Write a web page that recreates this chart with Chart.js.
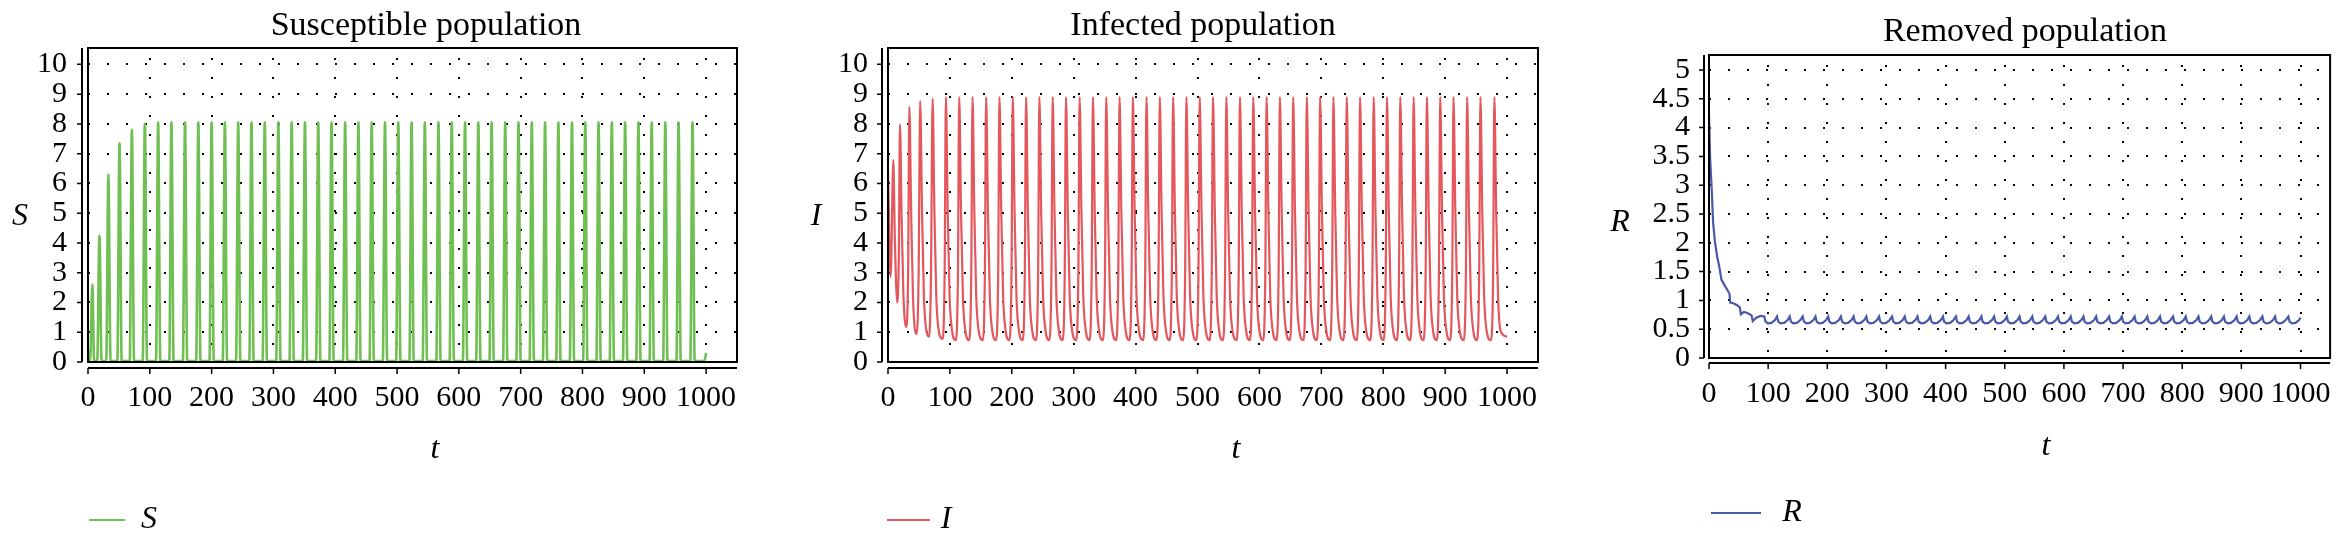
<!DOCTYPE html>
<html>
<head>
<meta charset="utf-8">
<title>SIR populations</title>
<script src="https://cdn.jsdelivr.net/npm/chart.js@4.4.0/dist/chart.umd.min.js"></script>
<style>
  body { margin: 0; background: #fff; width: 2349px; height: 540px; overflow: hidden; position: relative; }
  .panel { position: absolute; top: 0; height: 540px; }
</style>
</head>
<body>
<div class="panel" style="left:0;width:780px"><canvas id="chartS"></canvas></div>
<div class="panel" style="left:780px;width:780px"><canvas id="chartI"></canvas></div>
<div class="panel" style="left:1560px;width:789px"><canvas id="chartR"></canvas></div>
<script>
// tick values
const xTicks = [0, 100, 200, 300, 400, 500, 600, 700, 800, 900, 1000];
const popTicks = [0, 1, 2, 3, 4, 5, 6, 7, 8, 9, 10];
const removedTicks = [0, 0.5, 1, 1.5, 2, 2.5, 3, 3.5, 4, 4.5, 5];

// Susceptible S(t): narrow spikes
const sTime = [
  0, 3.5, 7, 10, 15, 18.5, 22, 29.5, 33, 36.5, 47.5, 51, 54.5, 67.5, 71, 74.5, 88.5, 92, 95.5,
  110, 113.5, 117, 131.5, 135, 138.5, 153.5, 157, 160.5, 175, 178.5, 182,
  196.5, 200, 203.5, 218, 221.5, 225, 239.5, 243, 246.5, 261, 264.5, 268,
  282.5, 286, 289.5, 304.5, 308, 311.5, 326, 329.5, 333, 347.5, 351, 354.5,
  369, 372.5, 376, 390.5, 394, 397.5, 412.5, 416, 419.5, 434, 437.5, 441,
  455.5, 459, 462.5, 477, 480.5, 484, 498.5, 502, 505.5, 520, 523.5, 527,
  541.5, 545, 548.5, 563.5, 567, 570.5, 585, 588.5, 592, 606.5, 610, 613.5,
  628, 631.5, 635, 649.5, 653, 656.5, 671.5, 675, 678.5, 693, 696.5, 700,
  714.5, 718, 721.5, 736, 739.5, 743, 757.5, 761, 764.5, 779.5, 783, 786.5,
  801, 804.5, 808, 822.5, 826, 829.5, 844, 847.5, 851, 865.5, 869, 872.5,
  887, 890.5, 894, 908.5, 912, 915.5, 930.5, 934, 937.5, 952, 955.5, 959,
  974.5, 978, 981.5, 997, 1000
];
const sValue = [
  0.4, 0.03, 2.6, 0.03, 0.03, 4.25, 0.03, 0.03, 6.3, 0.03, 0.03, 7.35, 0.03, 0.03, 7.8, 0.03, 0.03, 8.0, 0.03,
  0.03, 8.05, 0.03, 0.03, 8.05, 0.03, 0.03, 8.05, 0.03, 0.03, 8.05, 0.03,
  0.03, 8.05, 0.03, 0.03, 8.05, 0.03, 0.03, 8.05, 0.03, 0.03, 8.05, 0.03,
  0.03, 8.05, 0.03, 0.03, 8.05, 0.03, 0.03, 8.05, 0.03, 0.03, 8.05, 0.03,
  0.03, 8.05, 0.03, 0.03, 8.05, 0.03, 0.03, 8.05, 0.03, 0.03, 8.05, 0.03,
  0.03, 8.05, 0.03, 0.03, 8.05, 0.03, 0.03, 8.05, 0.03, 0.03, 8.05, 0.03,
  0.03, 8.05, 0.03, 0.03, 8.05, 0.03, 0.03, 8.05, 0.03, 0.03, 8.05, 0.03,
  0.03, 8.05, 0.03, 0.03, 8.05, 0.03, 0.03, 8.05, 0.03, 0.03, 8.05, 0.03,
  0.03, 8.05, 0.03, 0.03, 8.05, 0.03, 0.03, 8.05, 0.03, 0.03, 8.05, 0.03,
  0.03, 8.05, 0.03, 0.03, 8.05, 0.03, 0.03, 8.05, 0.03, 0.03, 8.05, 0.03,
  0.03, 8.05, 0.03, 0.03, 8.05, 0.03, 0.03, 8.05, 0.03, 0.03, 8.05, 0.03,
  0.03, 8.05, 0.03, 0.03, 0.3
];

// Infected I(t): one line per outbreak (comment = time of the peak)
const iTime = [
  0, 4.3, 8.6, 11, 15, 17.5, 19.4, 22, 25, 29.5, 32.5, 34.5, 37.5, 40.5,
  46.5, 49.5, 52, 55, 58, 62, 66.5, 69.5, 72, 75, 78, 82, 88, 91.5, 93.5, 96.5, 99.5, 103.5,
  109.5, 113, 115, 118, 121, 125,           // 115
  131, 134.5, 136.5, 139.5, 142.5, 146.5,   // 136.5
  153, 156.5, 158.5, 161.5, 164.5, 168.5,   // 158.5
  174.5, 178, 180, 183, 186, 190,           // 180
  196, 199.5, 201.5, 204.5, 207.5, 211.5,   // 201.5
  217.5, 221, 223, 226, 229, 233,           // 223
  239, 242.5, 244.5, 247.5, 250.5, 254.5,   // 244.5
  260.5, 264, 266, 269, 272, 276,           // 266
  282, 285.5, 287.5, 290.5, 293.5, 297.5,   // 287.5
  304, 307.5, 309.5, 312.5, 315.5, 319.5,   // 309.5
  325.5, 329, 331, 334, 337, 341,           // 331
  347, 350.5, 352.5, 355.5, 358.5, 362.5,   // 352.5
  368.5, 372, 374, 377, 380, 384,           // 374
  390, 393.5, 395.5, 398.5, 401.5, 405.5,   // 395.5
  412, 415.5, 417.5, 420.5, 423.5, 427.5,   // 417.5
  433.5, 437, 439, 442, 445, 449,           // 439
  455, 458.5, 460.5, 463.5, 466.5, 470.5,   // 460.5
  476.5, 480, 482, 485, 488, 492,           // 482
  498, 501.5, 503.5, 506.5, 509.5, 513.5,   // 503.5
  519.5, 523, 525, 528, 531, 535,           // 525
  541, 544.5, 546.5, 549.5, 552.5, 556.5,   // 546.5
  563, 566.5, 568.5, 571.5, 574.5, 578.5,   // 568.5
  584.5, 588, 590, 593, 596, 600,           // 590
  606, 609.5, 611.5, 614.5, 617.5, 621.5,   // 611.5
  627.5, 631, 633, 636, 639, 643,           // 633
  649, 652.5, 654.5, 657.5, 660.5, 664.5,   // 654.5
  671, 674.5, 676.5, 679.5, 682.5, 686.5,   // 676.5
  692.5, 696, 698, 701, 704, 708,           // 698
  714, 717.5, 719.5, 722.5, 725.5, 729.5,   // 719.5
  735.5, 739, 741, 744, 747, 751,           // 741
  757, 760.5, 762.5, 765.5, 768.5, 772.5,   // 762.5
  779, 782.5, 784.5, 787.5, 790.5, 794.5,   // 784.5
  800.5, 804, 806, 809, 812, 816,           // 806
  822, 825.5, 827.5, 830.5, 833.5, 837.5,   // 827.5
  843.5, 847, 849, 852, 855, 859,           // 849
  865, 868.5, 870.5, 873.5, 876.5, 880.5,   // 870.5
  886.5, 890, 892, 895, 898, 902,           // 892
  908, 911.5, 913.5, 916.5, 919.5, 923.5,   // 913.5
  930, 933.5, 935.5, 938.5, 941.5, 945.5,   // 935.5
  951.5, 955, 957, 960, 963, 967,           // 957
  974, 977.5, 979.5, 982.5, 985.5, 989.5,   // 979.5
  1000
];
const iValue = [
  6.4, 2.87, 6.78, 4.2, 2.0, 3.6, 7.98, 4.8, 2.2, 1.18, 3.0, 8.57, 4.9, 2.1,
  0.94, 3.0, 8.77, 5.0, 2.2, 1.05, 0.85, 3.0, 8.85, 5.0, 2.2, 1.05, 0.78, 3.0, 8.9, 5.0, 2.2, 1.05,
  0.73, 3.0, 8.9, 5.0, 2.2, 1.05,   // 115
  0.73, 3.0, 8.9, 5.0, 2.2, 1.05,   // 136.5
  0.73, 3.0, 8.9, 5.0, 2.2, 1.05,   // 158.5
  0.73, 3.0, 8.9, 5.0, 2.2, 1.05,   // 180
  0.73, 3.0, 8.9, 5.0, 2.2, 1.05,   // 201.5
  0.73, 3.0, 8.9, 5.0, 2.2, 1.05,   // 223
  0.73, 3.0, 8.9, 5.0, 2.2, 1.05,   // 244.5
  0.73, 3.0, 8.9, 5.0, 2.2, 1.05,   // 266
  0.73, 3.0, 8.9, 5.0, 2.2, 1.05,   // 287.5
  0.73, 3.0, 8.9, 5.0, 2.2, 1.05,   // 309.5
  0.73, 3.0, 8.9, 5.0, 2.2, 1.05,   // 331
  0.73, 3.0, 8.9, 5.0, 2.2, 1.05,   // 352.5
  0.73, 3.0, 8.9, 5.0, 2.2, 1.05,   // 374
  0.73, 3.0, 8.9, 5.0, 2.2, 1.05,   // 395.5
  0.73, 3.0, 8.9, 5.0, 2.2, 1.05,   // 417.5
  0.73, 3.0, 8.9, 5.0, 2.2, 1.05,   // 439
  0.73, 3.0, 8.9, 5.0, 2.2, 1.05,   // 460.5
  0.73, 3.0, 8.9, 5.0, 2.2, 1.05,   // 482
  0.73, 3.0, 8.9, 5.0, 2.2, 1.05,   // 503.5
  0.73, 3.0, 8.9, 5.0, 2.2, 1.05,   // 525
  0.73, 3.0, 8.9, 5.0, 2.2, 1.05,   // 546.5
  0.73, 3.0, 8.9, 5.0, 2.2, 1.05,   // 568.5
  0.73, 3.0, 8.9, 5.0, 2.2, 1.05,   // 590
  0.73, 3.0, 8.9, 5.0, 2.2, 1.05,   // 611.5
  0.73, 3.0, 8.9, 5.0, 2.2, 1.05,   // 633
  0.73, 3.0, 8.9, 5.0, 2.2, 1.05,   // 654.5
  0.73, 3.0, 8.9, 5.0, 2.2, 1.05,   // 676.5
  0.73, 3.0, 8.9, 5.0, 2.2, 1.05,   // 698
  0.73, 3.0, 8.9, 5.0, 2.2, 1.05,   // 719.5
  0.73, 3.0, 8.9, 5.0, 2.2, 1.05,   // 741
  0.73, 3.0, 8.9, 5.0, 2.2, 1.05,   // 762.5
  0.73, 3.0, 8.9, 5.0, 2.2, 1.05,   // 784.5
  0.73, 3.0, 8.9, 5.0, 2.2, 1.05,   // 806
  0.73, 3.0, 8.9, 5.0, 2.2, 1.05,   // 827.5
  0.73, 3.0, 8.9, 5.0, 2.2, 1.05,   // 849
  0.73, 3.0, 8.9, 5.0, 2.2, 1.05,   // 870.5
  0.73, 3.0, 8.9, 5.0, 2.2, 1.05,   // 892
  0.73, 3.0, 8.9, 5.0, 2.2, 1.05,   // 913.5
  0.73, 3.0, 8.9, 5.0, 2.2, 1.05,   // 935.5
  0.73, 3.0, 8.9, 5.0, 2.2, 1.05,   // 957
  0.73, 3.0, 8.9, 5.0, 2.2, 1.05,   // 979.5
  0.85
];

// Removed R(t): fast decay, then one scallop per outbreak
const rTime = [
  0, 2, 4.5, 7, 10, 14, 17.5, 21, 26, 31, 34.5, 36, 41, 47, 52, 54, 59, 65, 72, 74, 80, 87,
  93.5, 95.5, 99.5, 105.5, 111.5,   // 93.5
  115, 117, 121, 127, 133,          // 115
  136.5, 138.5, 142.5, 148.5, 154.5, // 136.5
  158.5, 160.5, 164.5, 170.5, 176.5, // 158.5
  180, 182, 186, 192, 198,          // 180
  201.5, 203.5, 207.5, 213.5, 219.5, // 201.5
  223, 225, 229, 235, 241,          // 223
  244.5, 246.5, 250.5, 256.5, 262.5, // 244.5
  266, 268, 272, 278, 284,          // 266
  287.5, 289.5, 293.5, 299.5, 305.5, // 287.5
  309.5, 311.5, 315.5, 321.5, 327.5, // 309.5
  331, 333, 337, 343, 349,          // 331
  352.5, 354.5, 358.5, 364.5, 370.5, // 352.5
  374, 376, 380, 386, 392,          // 374
  395.5, 397.5, 401.5, 407.5, 413.5, // 395.5
  417.5, 419.5, 423.5, 429.5, 435.5, // 417.5
  439, 441, 445, 451, 457,          // 439
  460.5, 462.5, 466.5, 472.5, 478.5, // 460.5
  482, 484, 488, 494, 500,          // 482
  503.5, 505.5, 509.5, 515.5, 521.5, // 503.5
  525, 527, 531, 537, 543,          // 525
  546.5, 548.5, 552.5, 558.5, 564.5, // 546.5
  568.5, 570.5, 574.5, 580.5, 586.5, // 568.5
  590, 592, 596, 602, 608,          // 590
  611.5, 613.5, 617.5, 623.5, 629.5, // 611.5
  633, 635, 639, 645, 651,          // 633
  654.5, 656.5, 660.5, 666.5, 672.5, // 654.5
  676.5, 678.5, 682.5, 688.5, 694.5, // 676.5
  698, 700, 704, 710, 716,          // 698
  719.5, 721.5, 725.5, 731.5, 737.5, // 719.5
  741, 743, 747, 753, 759,          // 741
  762.5, 764.5, 768.5, 774.5, 780.5, // 762.5
  784.5, 786.5, 790.5, 796.5, 802.5, // 784.5
  806, 808, 812, 818, 824,          // 806
  827.5, 829.5, 833.5, 839.5, 845.5, // 827.5
  849, 851, 855, 861, 867,          // 849
  870.5, 872.5, 876.5, 882.5, 888.5, // 870.5
  892, 894, 898, 904, 910,          // 892
  913.5, 915.5, 919.5, 925.5, 931.5, // 913.5
  935.5, 937.5, 941.5, 947.5, 953.5, // 935.5
  957, 959, 963, 969, 975,          // 957
  979.5, 981.5, 985.5, 991.5, 997.5, // 979.5
  1000
];
const rValue = [
  4.2, 3.45, 2.95, 2.35, 2.02, 1.75, 1.58, 1.36, 1.27, 1.18, 1.12, 0.96, 0.95, 0.92, 0.88, 0.76, 0.8, 0.78, 0.74, 0.64, 0.7, 0.73,
  0.72, 0.63, 0.6, 0.61, 0.66,   // 93.5
  0.72, 0.63, 0.6, 0.61, 0.66,   // 115
  0.72, 0.63, 0.6, 0.61, 0.66,   // 136.5
  0.72, 0.63, 0.6, 0.61, 0.66,   // 158.5
  0.72, 0.63, 0.6, 0.61, 0.66,   // 180
  0.72, 0.63, 0.6, 0.61, 0.66,   // 201.5
  0.72, 0.63, 0.6, 0.61, 0.66,   // 223
  0.72, 0.63, 0.6, 0.61, 0.66,   // 244.5
  0.72, 0.63, 0.6, 0.61, 0.66,   // 266
  0.72, 0.63, 0.6, 0.61, 0.66,   // 287.5
  0.72, 0.63, 0.6, 0.61, 0.66,   // 309.5
  0.72, 0.63, 0.6, 0.61, 0.66,   // 331
  0.72, 0.63, 0.6, 0.61, 0.66,   // 352.5
  0.72, 0.63, 0.6, 0.61, 0.66,   // 374
  0.72, 0.63, 0.6, 0.61, 0.66,   // 395.5
  0.72, 0.63, 0.6, 0.61, 0.66,   // 417.5
  0.72, 0.63, 0.6, 0.61, 0.66,   // 439
  0.72, 0.63, 0.6, 0.61, 0.66,   // 460.5
  0.72, 0.63, 0.6, 0.61, 0.66,   // 482
  0.72, 0.63, 0.6, 0.61, 0.66,   // 503.5
  0.72, 0.63, 0.6, 0.61, 0.66,   // 525
  0.72, 0.63, 0.6, 0.61, 0.66,   // 546.5
  0.72, 0.63, 0.6, 0.61, 0.66,   // 568.5
  0.72, 0.63, 0.6, 0.61, 0.66,   // 590
  0.72, 0.63, 0.6, 0.61, 0.66,   // 611.5
  0.72, 0.63, 0.6, 0.61, 0.66,   // 633
  0.72, 0.63, 0.6, 0.61, 0.66,   // 654.5
  0.72, 0.63, 0.6, 0.61, 0.66,   // 676.5
  0.72, 0.63, 0.6, 0.61, 0.66,   // 698
  0.72, 0.63, 0.6, 0.61, 0.66,   // 719.5
  0.72, 0.63, 0.6, 0.61, 0.66,   // 741
  0.72, 0.63, 0.6, 0.61, 0.66,   // 762.5
  0.72, 0.63, 0.6, 0.61, 0.66,   // 784.5
  0.72, 0.63, 0.6, 0.61, 0.66,   // 806
  0.72, 0.63, 0.6, 0.61, 0.66,   // 827.5
  0.72, 0.63, 0.6, 0.61, 0.66,   // 849
  0.72, 0.63, 0.6, 0.61, 0.66,   // 870.5
  0.72, 0.63, 0.6, 0.61, 0.66,   // 892
  0.72, 0.63, 0.6, 0.61, 0.66,   // 913.5
  0.72, 0.63, 0.6, 0.61, 0.66,   // 935.5
  0.72, 0.63, 0.6, 0.61, 0.66,   // 957
  0.72, 0.63, 0.6, 0.61, 0.66,   // 979.5
  0.70
];

const SERIF = "'Liberation Serif', 'Times New Roman', serif";

// frame, double axis lines, tick marks, title, axis letters and legend
function decorPlugin(cfg) {
  return {
    id: 'decor',
    afterDraw(chart) {
      const ctx = chart.ctx;
      const a = chart.chartArea;
      const g = cfg.gap;
      ctx.save();
      ctx.strokeStyle = '#000';
      ctx.lineWidth = 2;
      ctx.strokeRect(a.left, a.top, a.right - a.left, a.bottom - a.top);
      ctx.beginPath();
      ctx.moveTo(a.left - g, a.top);
      ctx.lineTo(a.left - g, a.bottom);
      ctx.moveTo(a.left, a.bottom + g);
      ctx.lineTo(a.right, a.bottom + g);
      ctx.stroke();

      ctx.lineWidth = 1.5;
      ctx.beginPath();
      chart.scales.x.ticks.forEach(t => {
        const px = chart.scales.x.getPixelForValue(t.value);
        ctx.moveTo(px, a.bottom + g);
        ctx.lineTo(px, a.bottom + g + 6);
      });
      chart.scales.y.ticks.forEach(t => {
        const py = chart.scales.y.getPixelForValue(t.value);
        ctx.moveTo(a.left - g, py);
        ctx.lineTo(a.left - g - 5, py);
      });
      ctx.stroke();

      ctx.fillStyle = '#000';
      ctx.textAlign = 'center';
      ctx.textBaseline = 'middle';
      ctx.font = '34px ' + SERIF;
      ctx.fillText(cfg.title, cfg.titlePos[0], cfg.titlePos[1]);
      ctx.font = 'italic 32px ' + SERIF;
      ctx.fillText(cfg.letter, cfg.letterPos[0], cfg.letterPos[1]);
      ctx.fillText('t', cfg.tPos[0], cfg.tPos[1]);

      // legend
      ctx.strokeStyle = cfg.color;
      ctx.lineWidth = 2;
      ctx.beginPath();
      ctx.moveTo(cfg.legend[0], cfg.legend[2]);
      ctx.lineTo(cfg.legend[1], cfg.legend[2]);
      ctx.stroke();
      ctx.fillText(cfg.letter, cfg.legend[3], cfg.legend[2]);
      ctx.restore();
    }
  };
}

function makePanel(id, cfg) {
  const points = cfg.time.map((t, i) => ({ x: t, y: cfg.values[i] }));
  const tickFont = { family: SERIF, size: 30 };
  return new Chart(document.getElementById(id), {
    type: 'line',
    data: {
      datasets: [{
        label: cfg.letter,
        data: points,
        borderColor: cfg.color,
        borderWidth: cfg.lineWidth,
        pointRadius: 0,
        fill: false,
        tension: cfg.smooth ? 0.4 : 0,
        cubicInterpolationMode: cfg.smooth ? 'monotone' : 'default'
      }]
    },
    options: {
      animation: false,
      responsive: true,
      maintainAspectRatio: false,
      layout: { padding: { left: 0, top: cfg.area.top, right: cfg.width - cfg.area.right, bottom: 0 } },
      plugins: { legend: { display: false }, title: { display: false }, tooltip: { enabled: false } },
      scales: {
        x: {
          type: 'linear',
          min: 0,
          max: 1050,
          afterBuildTicks: s => { s.ticks = xTicks.map(v => ({ value: v })); },
          afterFit: s => { s.height = 540 - cfg.area.bottom; },
          ticks: { font: tickFont, color: '#000', padding: 18, maxRotation: 0, autoSkip: false, callback: v => String(v) },
          grid: { color: '#000', lineWidth: 2, drawTicks: false },
          border: { display: false, dash: [2, 17], dashOffset: 9 }
        },
        y: {
          min: 0,
          max: cfg.yMax,
          afterBuildTicks: s => { s.ticks = cfg.yTicks.map(v => ({ value: v })); },
          afterFit: s => { s.width = cfg.area.left; },
          ticks: { font: tickFont, color: '#000', padding: cfg.yPad, autoSkip: false, callback: v => String(v) },
          grid: { color: '#000', lineWidth: 2, drawTicks: false },
          border: { display: false, dash: [2, 17], dashOffset: 0 }
        }
      }
    },
    plugins: [decorPlugin(cfg)]
  });
}

makePanel('chartS', {
  time: sTime, values: sValue, smooth: true, color: '#6fbf52', letter: 'S', lineWidth: 2.6,
  title: 'Susceptible population', width: 780,
  area: { left: 88, right: 737, top: 48, bottom: 362 }, yMax: 10.55, yTicks: popTicks, yPad: 21, gap: 6,
  titlePos: [426, 26], letterPos: [20, 217], tPos: [435, 450], legend: [89, 125, 520, 149]
});

makePanel('chartI', {
  time: iTime, values: iValue, smooth: true, color: '#e4575d', letter: 'I', lineWidth: 2.2,
  title: 'Infected population', width: 780,
  area: { left: 108, right: 758, top: 48, bottom: 362 }, yMax: 10.55, yTicks: popTicks, yPad: 20, gap: 6,
  titlePos: [423, 26], letterPos: [36, 217], tPos: [456, 450], legend: [107, 150, 520, 166]
});

makePanel('chartR', {
  time: rTime, values: rValue, smooth: false, color: '#4a58a8', letter: 'R', lineWidth: 2.2,
  title: 'Removed population', width: 789,
  area: { left: 149, right: 779, top: 55, bottom: 358 }, yMax: 5.26, yTicks: removedTicks, yPad: 19, gap: 5,
  titlePos: [465, 32], letterPos: [60, 223], tPos: [486, 447], legend: [151, 201, 513, 232]
});
</script>
</body>
</html>
